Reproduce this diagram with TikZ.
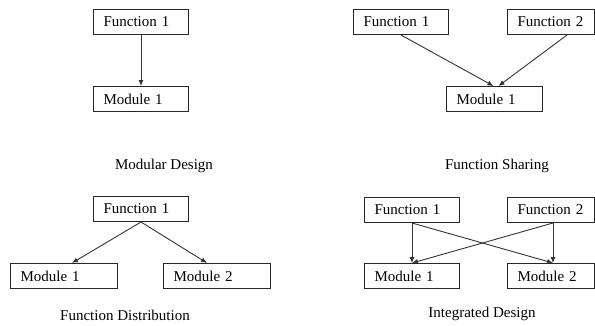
\documentclass[tikz,border=0pt]{standalone}
\usepackage{fontspec}
\setmainfont{Liberation Serif}
\usetikzlibrary{arrows.meta}
\tikzset{
  unit/.style = {
    draw=black!85, line width=1pt, anchor=north west,
    minimum height=25pt, inner xsep=10pt, inner ysep=0pt,
    text width=#1, align=left
  },
  link/.style = {
    draw=black!80, line width=.9pt, -{Latex[length=6pt, width=5pt]}
  },
  caption/.style = {
    inner sep=0pt
  }
}

\begin{document}
\begin{tikzpicture}[x=1pt, y=-1pt, font=\fontsize{15}{18}\selectfont]
    \useasboundingbox (0,0) rectangle (595,325);
    % modular design
    \node[unit=75] (mdF1) at (93,9)  {Function 1};
    \node[unit=75] (mdM1) at (93,86) {Module 1};
    \node[caption] (mdCap) at (164,166) {Modular Design};
    \path[link] (mdF1) -- (mdM1);
    % function sharing
    \node[unit=75] (fsF1) at (353,9)  {Function 1};
    \node[unit=67] (fsF2) at (507,9)  {Function 2};
    \node[unit=76] (fsM1) at (446,86) {Module 1};
    \node[caption] (fsCap) at (497,166) {Function Sharing};
    \path[link] (fsF1.south) -- ([xshift=-1pt]fsM1.north);
    \path[link] ([xshift=16pt]fsF2.south) -- ([xshift=4pt]fsM1.north);
    % function distribution
    \node[unit=75] (fdF1) at (93,196)  {Function 1};
    \node[unit=87] (fdM1) at (10,263)  {Module 1};
    \node[unit=87] (fdM2) at (163,263) {Module 2};
    \node[caption] (fdCap) at (125,315) {Function Distribution};
    \path[link] (fdF1.south) -- ([xshift=8pt]fdM1.north);
    \path[link] (fdF1.south) -- ([xshift=-10pt]fdM2.north);
    % integrated design
    \node[unit=75] (idF1) at (364,197) {Function 1};
    \node[unit=67] (idF2) at (507,197) {Function 2};
    \node[unit=75] (idM1) at (364,263) {Module 1};
    \node[unit=67] (idM2) at (507,263) {Module 2};
    \node[caption] (idCap) at (482,314) {Integrated Design};
    \path
      (idF1.south) coordinate (idA)
      ([xshift=2pt]idF2.south) coordinate (idB)
    ;
    \path[link] (idA) -- (idA |- idM1.north);
    \path[link] (idA) -- (idB |- idM2.north);
    \path[link] (idB) -- (idB |- idM2.north);
    \path[link] (idB) -- (idA |- idM1.north);
\end{tikzpicture}
\end{document}
